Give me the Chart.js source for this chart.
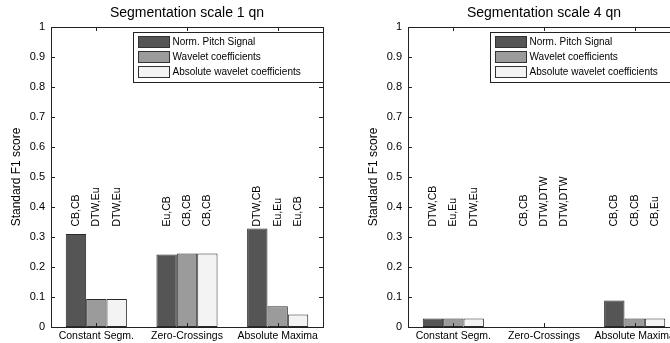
<!DOCTYPE html>
<html>
<head>
<meta charset="utf-8">
<title>Segmentation scale</title>
<script src="https://cdn.jsdelivr.net/npm/chart.js@4.4.1/dist/chart.umd.min.js"></script>
<style>
  html, body { margin: 0; padding: 0; background: #fff; overflow: hidden; width: 670px; height: 343px; }
  canvas { position: absolute; top: 0; }
  #chart1 { left: 0; }
  #chart2 { left: 335px; }
</style>
</head>
<body>
<canvas id="chart1" width="335" height="343"></canvas>
<canvas id="chart2" width="357" height="343"></canvas>
<script>
const categories = ['Constant Segm.', 'Zero-Crossings', 'Absolute Maxima'];
const seriesNames = ['Norm. Pitch Signal', 'Wavelet coefficients', 'Absolute wavelet coefficients'];
const seriesColors = ['#555555', '#9b9b9b', '#f3f3f3'];
const yTicks = [0, 0.1, 0.2, 0.3, 0.4, 0.5, 0.6, 0.7, 0.8, 0.9, 1];

// Segmentation scale 1 qn
const scale1Pitch = [0.31, 0.242, 0.328];
const scale1Wavelet = [0.093, 0.245, 0.069];
const scale1AbsWavelet = [0.093, 0.245, 0.042];
const scale1PitchTags = ['CB,CB', 'Eu,CB', 'DTW,CB'];
const scale1WaveletTags = ['DTW,Eu', 'CB,CB', 'Eu,Eu'];
const scale1AbsWaveletTags = ['DTW,Eu', 'CB,CB', 'Eu,CB'];

// Segmentation scale 4 qn
const scale4Pitch = [0.028, 0, 0.088];
const scale4Wavelet = [0.028, 0, 0.028];
const scale4AbsWavelet = [0.028, 0, 0.028];
const scale4PitchTags = ['DTW,CB', 'CB,CB', 'CB,CB'];
const scale4WaveletTags = ['Eu,Eu', 'DTW,DTW', 'CB,CB'];
const scale4AbsWaveletTags = ['DTW,Eu', 'DTW,DTW', 'CB,Eu'];

// height at which the rotated distance tags start
const tagLevel = 0.335;

const FONT = '"Liberation Sans", Arial, sans-serif';

/**
 * Frame, inner tick marks, title, y label and boxed legend (matlab look)
 */
const axesDecor = {
  id: 'axesDecor',
  afterDraw(chart) {
    const { ctx, chartArea: a, scales } = chart;
    const opts = chart.options.plugins.axesDecor;
    ctx.save();
    ctx.strokeStyle = '#222';
    ctx.lineWidth = 1;
    ctx.strokeRect(Math.round(a.left) + 0.5, Math.round(a.top) + 0.5,
                   Math.round(a.width), Math.round(a.height));

    // tick marks inside the box
    ctx.beginPath();
    for (const v of yTicks) {
      const y = Math.round(scales.y.getPixelForValue(v)) + 0.5;
      ctx.moveTo(a.left, y); ctx.lineTo(a.left + 4, y);
      ctx.moveTo(a.right, y); ctx.lineTo(a.right - 4, y);
    }
    categories.forEach((c, i) => {
      const x = Math.round(scales.x.getPixelForValue(i)) + 0.5;
      ctx.moveTo(x, a.top); ctx.lineTo(x, a.top + 4);
      ctx.moveTo(x, a.bottom); ctx.lineTo(x, a.bottom - 4);
    });
    ctx.stroke();

    // title
    ctx.fillStyle = '#000';
    ctx.font = '14px ' + FONT;
    ctx.textAlign = 'center';
    ctx.textBaseline = 'middle';
    ctx.fillText(opts.title, (a.left + a.right) / 2, 13);

    // y axis label
    ctx.save();
    ctx.translate(a.left - 34, (a.top + a.bottom) / 2);
    ctx.rotate(-Math.PI / 2);
    ctx.font = '12px ' + FONT;
    ctx.fillText('Standard F1 score', 0, 0);
    ctx.restore();

    // legend box
    const boxW = 190, boxH = 50;
    const bx = Math.round(a.right - boxW) + 0.5;
    const by = Math.round(a.top + 5) + 0.5;
    ctx.fillStyle = '#fff';
    ctx.fillRect(bx, by, boxW, boxH);
    ctx.strokeStyle = '#222';
    ctx.strokeRect(bx, by, boxW, boxH);
    ctx.font = '10px ' + FONT;
    ctx.textAlign = 'left';
    chart.data.datasets.forEach((ds, i) => {
      const rowY = by + 9 + i * 15;
      ctx.fillStyle = ds.backgroundColor;
      ctx.fillRect(bx + 5, rowY - 5, 31, 11);
      ctx.strokeStyle = '#333';
      ctx.strokeRect(bx + 5, rowY - 5, 31, 11);
      ctx.fillStyle = '#000';
      ctx.fillText(ds.label, bx + 39, rowY + 1);
    });
    ctx.restore();
  },
  afterDatasetsDraw(chart) {
    // rotated tags above every bar
    const { ctx, scales } = chart;
    const y = scales.y.getPixelForValue(tagLevel);
    ctx.save();
    ctx.fillStyle = '#000';
    ctx.font = '10.5px ' + FONT;
    ctx.textAlign = 'left';
    ctx.textBaseline = 'middle';
    chart.data.datasets.forEach((ds, d) => {
      const meta = chart.getDatasetMeta(d);
      meta.data.forEach((bar, i) => {
        ctx.save();
        ctx.translate(bar.x, y);
        ctx.rotate(-Math.PI / 2);
        ctx.fillText(ds.tags[i], 0, 0);
        ctx.restore();
      });
    });
    ctx.restore();
  }
};

/**
 * Build one grouped bar panel
 * @param {string} canvasId - id of the canvas
 * @param {string} title - panel title
 * @param {Array} series - three value arrays
 * @param {Array} tags - three tag arrays
 * @param {number} axisLeft - width reserved left of the plot box
 */
function createSegmentationChart(canvasId, title, series, tags, axisLeft) {
  const ctx = document.getElementById(canvasId).getContext('2d');

  return new Chart(ctx, {
    type: 'bar',
    data: {
      labels: categories,
      datasets: series.map((values, i) => ({
        label: seriesNames[i],
        data: values,
        tags: tags[i],
        backgroundColor: seriesColors[i],
        borderColor: '#2a2a2a',
        borderWidth: 1,
        borderSkipped: false,
        categoryPercentage: 0.674,
        barPercentage: 1.0
      }))
    },
    plugins: [axesDecor],
    options: {
      responsive: false,
      animation: false,
      layout: { padding: { top: 27, right: 12, left: 0, bottom: 0 } },
      plugins: {
        legend: { display: false },
        title: { display: false },
        tooltip: { enabled: false },
        axesDecor: { title: title }
      },
      scales: {
        x: {
          grid: { display: false, drawTicks: false },
          border: { display: false },
          ticks: {
            color: '#000',
            font: { family: FONT, size: 10.5 },
            padding: 3,
            maxRotation: 0,
            autoSkip: false
          },
          afterFit: (scale) => { scale.height = 16; }
        },
        y: {
          min: 0,
          max: 1,
          grid: { display: false, drawTicks: false },
          border: { display: false },
          afterBuildTicks: (scale) => { scale.ticks = yTicks.map(v => ({ value: v })); },
          ticks: {
            color: '#000',
            font: { family: FONT, size: 11 },
            padding: 6,
            callback: (v) => String(Number(v.toFixed(1)))
          },
          afterFit: (scale) => { scale.width = axisLeft; }
        }
      }
    }
  });
}

document.addEventListener('DOMContentLoaded', () => {
  createSegmentationChart('chart1', 'Segmentation scale 1 qn',
    [scale1Pitch, scale1Wavelet, scale1AbsWavelet],
    [scale1PitchTags, scale1WaveletTags, scale1AbsWaveletTags], 51);
  createSegmentationChart('chart2', 'Segmentation scale 4 qn',
    [scale4Pitch, scale4Wavelet, scale4AbsWavelet],
    [scale4PitchTags, scale4WaveletTags, scale4AbsWaveletTags], 73);
});
</script>
</body>
</html>
